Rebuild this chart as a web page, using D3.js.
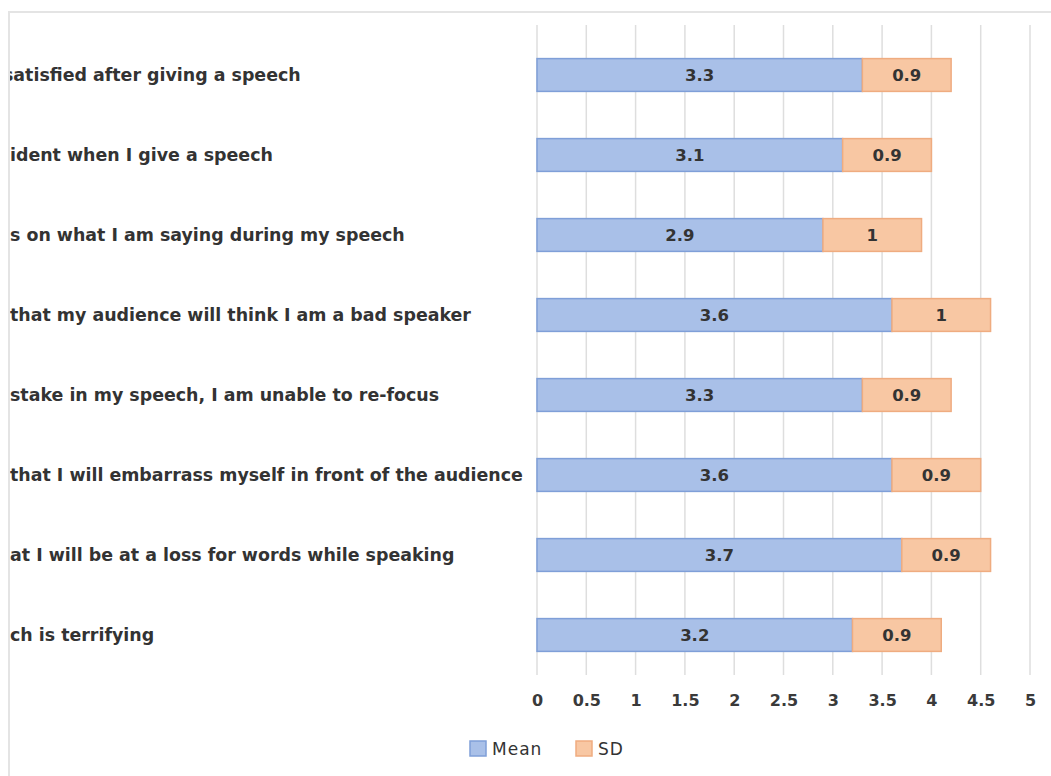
<!DOCTYPE html>
<html>
<head>
<meta charset="utf-8">
<script src="https://cdn.jsdelivr.net/npm/d3@7"></script>
<style>
  body { margin: 0; background: #fff; }
  svg { display: block; font-family: "DejaVu Sans", sans-serif; }
</style>
</head>
<body>
<script>
// chart data, top to bottom
var labels = [
  'satisfied after giving a speech',
  'ident when I give a speech',
  's on what I am saying during my speech',
  'that my audience will think I am a bad speaker',
  'stake in my speech, I am unable to re-focus',
  'that I will embarrass myself in front of the audience',
  'at I will be at a loss for words while speaking',
  'ch is terrifying'
];
var meanValues = [3.3, 3.1, 2.9, 3.6, 3.3, 3.6, 3.7, 3.2];
var sdValues = [0.9, 0.9, 1, 1, 0.9, 0.9, 0.9, 0.9];
var xTicks = [0, 0.5, 1, 1.5, 2, 2.5, 3, 3.5, 4, 4.5, 5];
var seriesNames = ['Mean', 'SD'];

var width = 1051;
var height = 776;
var colors = { Mean: '#a9c0e8', SD: '#f8c7a3' };
var strokes = { Mean: '#7f9fd8', SD: '#efac80' };

var svg = d3.select('body')
  .append('svg')
  .attr('width', width)
  .attr('height', height);

// chart area border (only top and left visible)
svg.append('path')
  .attr('d', 'M9,' + height + 'V12H' + width)
  .attr('fill', 'none')
  .attr('stroke', '#e4e4e4')
  .attr('stroke-width', 2);

var xScale = d3.scaleLinear()
  .domain([0, 5])
  .range([537, 1030]);

var yScale = d3.scaleBand()
  .domain(d3.range(labels.length))
  .range([35, 675])
  .paddingInner(0.59)
  .paddingOuter(0.295);

// vertical gridlines
svg.append('g')
  .selectAll('line')
  .data(xTicks)
  .enter()
  .append('line')
  .attr('x1', function (d) { return xScale(d); })
  .attr('x2', function (d) { return xScale(d); })
  .attr('y1', 25)
  .attr('y2', 675)
  .attr('stroke', '#dedede')
  .attr('stroke-width', 1.5);

// x axis labels
var xAxis = d3.axisBottom(xScale)
  .tickValues(xTicks)
  .tickSize(0)
  .tickPadding(0)
  .tickFormat(function (d) { return String(d); });

var xg = svg.append('g')
  .attr('transform', 'translate(0,695)')
  .call(xAxis);
xg.select('.domain').remove();
xg.selectAll('text')
  .attr('font-size', 16)
  .attr('font-family', '"DejaVu Sans", sans-serif')
  .attr('font-weight', 700)
  .attr('fill', '#3a3a3a');

// stacked bars
var rows = labels.map(function (l, i) {
  return { i: i, Mean: meanValues[i], SD: sdValues[i] };
});
var stack = d3.stack().keys(seriesNames)(rows);

var layer = svg.append('g')
  .selectAll('g')
  .data(stack)
  .enter()
  .append('g');

layer.selectAll('rect')
  .data(function (s) { return s.map(function (d) { d.key = s.key; return d; }); })
  .enter()
  .append('rect')
  .attr('x', function (d) { return xScale(d[0]); })
  .attr('y', function (d) { return yScale(d.data.i); })
  .attr('width', function (d) { return xScale(d[1]) - xScale(d[0]); })
  .attr('height', yScale.bandwidth())
  .attr('fill', function (d) { return colors[d.key]; })
  .attr('stroke', function (d) { return strokes[d.key]; })
  .attr('stroke-width', 1.5);

layer.selectAll('text')
  .data(function (s) { return s; })
  .enter()
  .append('text')
  .attr('x', function (d) { return (xScale(d[0]) + xScale(d[1])) / 2; })
  .attr('y', function (d) { return yScale(d.data.i) + yScale.bandwidth() / 2; })
  .attr('dy', '0.35em')
  .attr('text-anchor', 'middle')
  .attr('font-size', 16.5)
  .attr('font-weight', 700)
  .attr('fill', '#333')
  .text(function (d) { return String(d.data[d.key]); });

// category labels, clipped on the left
svg.append('clipPath')
  .attr('id', 'labelClip')
  .append('rect')
  .attr('x', 10)
  .attr('y', 0)
  .attr('width', 520)
  .attr('height', height);

var labelText = svg.append('g')
  .attr('clip-path', 'url(#labelClip)')
  .selectAll('text')
  .data(labels)
  .enter()
  .append('text')
  .attr('x', function (d, i) { return i === 0 ? 3 : 10; })
  .attr('y', function (d, i) { return yScale(i) + yScale.bandwidth() / 2; })
  .attr('dy', '0.35em')
  .attr('font-size', 16)
  .attr('font-weight', 700)
  .attr('fill', '#333')
  .text(function (d) { return d; });

// size the labels so the longest one reaches the bars like in the picture
var longest = d3.max(labelText.nodes(), function (n) { return n.getComputedTextLength(); });
labelText.attr('font-size', 16 * 513 / longest);

// legend
var legend = svg.append('g')
  .selectAll('g')
  .data(seriesNames)
  .enter()
  .append('g')
  .attr('transform', function (d, i) { return 'translate(' + (470 + i * 106) + ',741)'; });

legend.append('rect')
  .attr('width', 16)
  .attr('height', 15)
  .attr('fill', function (d) { return colors[d]; })
  .attr('stroke', function (d) { return strokes[d]; })
  .attr('stroke-width', 1.5);

legend.append('text')
  .attr('x', 22)
  .attr('y', 8)
  .attr('dy', '0.35em')
  .attr('font-size', 17)
  .attr('letter-spacing', 1)
  .attr('fill', '#333')
  .text(function (d) { return d; });
</script>
</body>
</html>
